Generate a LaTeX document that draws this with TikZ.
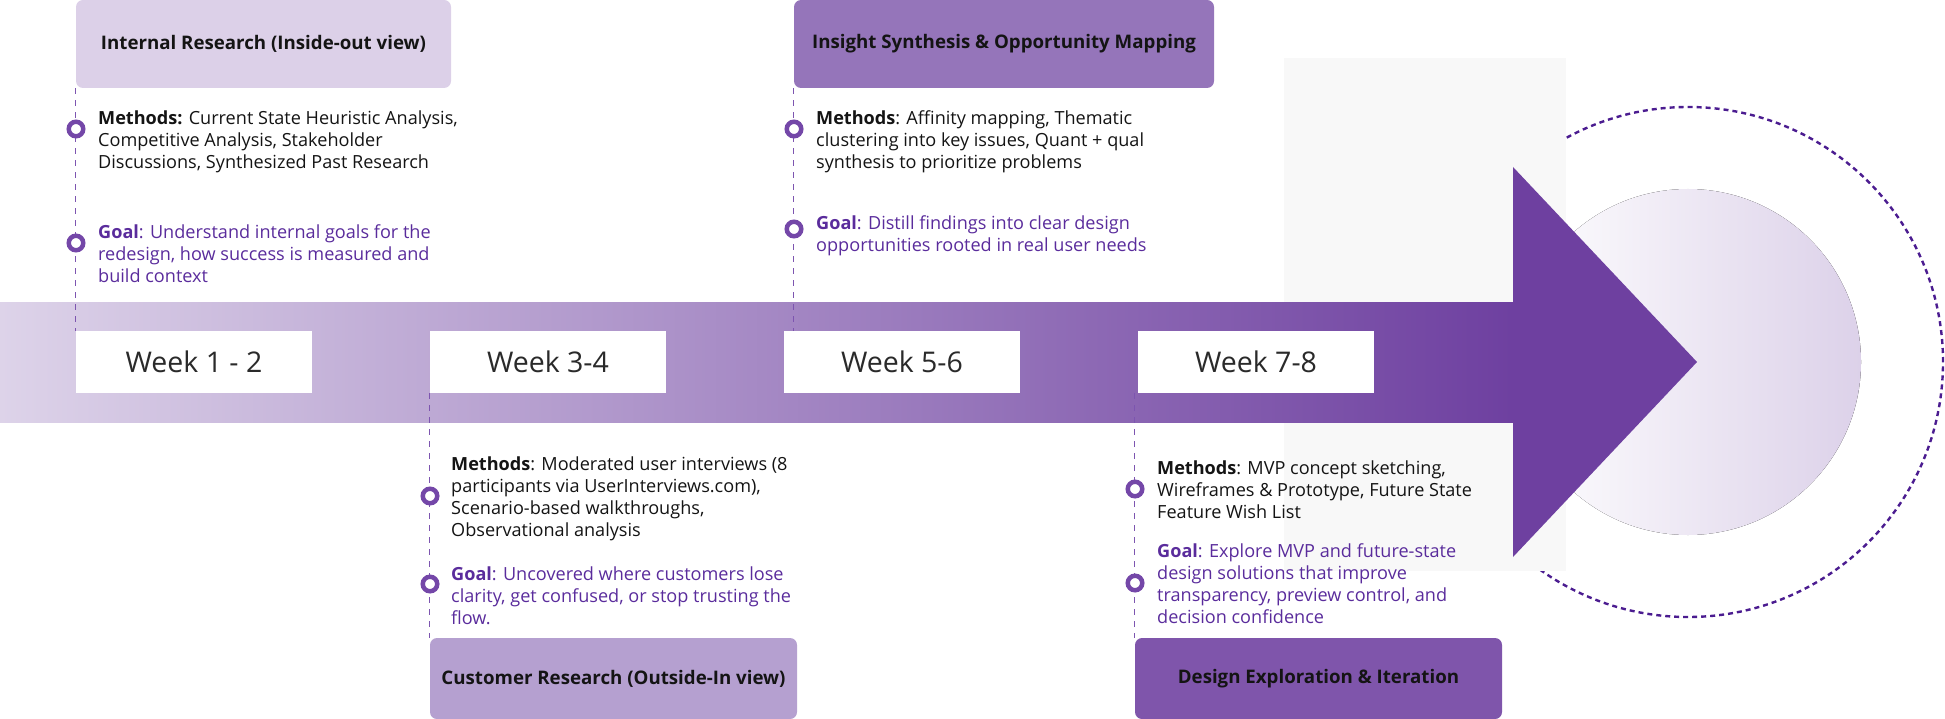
\documentclass[tikz,border=0pt]{standalone}
\usepackage{fontspec}
\setmainfont{Open Sans}
\definecolor{bandL}{HTML}{DDD3E9}
\definecolor{bandR}{HTML}{6E40A0}
\definecolor{boxA}{HTML}{DCD0E8}
\definecolor{boxB}{HTML}{B5A0D0}
\definecolor{boxC}{HTML}{9575BA}
\definecolor{boxD}{HTML}{7F55AB}
\definecolor{goalc}{HTML}{5A2C9C}
\definecolor{ringc}{HTML}{7447A8}
\definecolor{linec}{HTML}{7D55B0}
\definecolor{dotc}{HTML}{4B1C90}
\definecolor{greyc}{HTML}{F8F8F8}
\definecolor{circR}{HTML}{DCD1E9}
\definecolor{textc}{HTML}{141414}
\definecolor{weekc}{HTML}{2A2A2A}
\tikzset{
  phasebox/.style={rounded corners=7pt, inner sep=0pt, text=textc,
    font=\fontsize{18.7}{22}\selectfont\bfseries},
  weekbox/.style={fill=white, inner sep=0pt, minimum width=236pt, minimum height=62pt,
    text=weekc, font=\fontsize{28.5}{30}\selectfont},
  vline/.style={draw=linec, line width=1pt, dash pattern=on 6pt off 6pt},
  ring/.style={circle, draw=ringc, line width=4.5pt, fill=white, inner sep=0pt, minimum size=14.5pt},
  body/.style={anchor=base west, inner sep=0pt, text=textc, font=\fontsize{18.1}{22}\selectfont},
  goal/.style={anchor=base west, inner sep=0pt, text=goalc, font=\fontsize{18.1}{22}\selectfont}
}
\newcommand{\txtblock}[1]{\parbox[t]{440pt}{\raggedright #1}}
\begin{document}
\begin{tikzpicture}[x=1pt,y=-1pt]
\useasboundingbox (0,0) rectangle (1945,719);
% right decoration
\draw[dotc, line width=2.4pt, dash pattern=on 5pt off 4pt] (1688,362) circle[radius=255pt];
\fill[greyc] (1284,58) rectangle (1566,571);
\fill[left color=white, right color=circR] (1688,362) circle[radius=173pt];
% band and arrow head
\fill[left color=bandL, right color=bandR] (0,302) rectangle (1513,422);
\fill[bandR] (1513,167) -- (1697,362) -- (1513,557) -- cycle;
% week boxes
\node[weekbox] (w1) at (194,362) {Week 1 - 2};
\node[weekbox] (w3) at (548,362) {Week 3-4};
\node[weekbox] (w5) at (902,362) {Week 5-6};
\node[weekbox] (w7) at (1256,362) {Week 7-8};
% phase boxes
\node[phasebox, fill=boxA, minimum width=375pt, minimum height=88pt] (ir) at (263.5,44) {Internal Research (Inside-out view)};
\node[phasebox, fill=boxC, minimum width=420pt, minimum height=88pt] (is) at (1004,44) {Insight Synthesis \& Opportunity Mapping};
\node[phasebox, fill=boxB, minimum width=367pt, minimum height=81pt] (cr) at (613.5,678.5) {Customer Research (Outside-In view)};
\node[phasebox, fill=boxD, minimum width=367pt, minimum height=81pt] (de) at (1318.5,678.5) {Design Exploration \& Iteration};
% dashed connectors
\draw[vline] (ir.south west) -- (w1.north west);
\draw[vline] (w3.south west) -- (cr.north west);
\draw[vline] (is.south west) -- (is.south west |- w5.north);
\draw[vline] (de.north west |- w7.south) -- (de.north west);
% ring markers
\node[ring] (m1) at (76,129) {};
\node[ring] (g1) at (76,243) {};
\node[ring] (m3) at (430,496) {};
\node[ring] (g3) at (430,584) {};
\node[ring] (m5) at (794,129) {};
\node[ring] (g5) at (794,229) {};
\node[ring] (m7) at (1135,489) {};
\node[ring] (g7) at (1135,583) {};
% texts
\node[body] (t1m) at (98,125) {\txtblock{\textbf{Methods:} Current State Heuristic Analysis,\\Competitive Analysis, Stakeholder\\Discussions, Synthesized Past Research}};
\node[goal] (t1g) at (98,239) {\txtblock{\textbf{Goal}: Understand internal goals for the\\redesign, how success is measured and\\build context}};
\node[body] (t3m) at (451,470) {\txtblock{\textbf{Methods}: Moderated user interviews (8\\participants via UserInterviews.com),\\Scenario-based walkthroughs,\\Observational analysis}};
\node[goal] (t3g) at (451,580) {\txtblock{\textbf{Goal}: Uncovered where customers lose\\clarity, get confused, or stop trusting the\\flow.}};
\node[body] (t5m) at (816,125) {\txtblock{\textbf{Methods}: Affinity mapping, Thematic\\clustering into key issues, Quant + qual\\synthesis to prioritize problems}};
\node[goal] (t5g) at (816,230) {\txtblock{\textbf{Goal}: Distill findings into clear design\\opportunities rooted in real user needs}};
\node[body] (t7m) at (1157,474) {\txtblock{\textbf{Methods}: MVP concept sketching,\\Wireframes \& Prototype, Future State\\Feature Wish List}};
\node[goal] (t7g) at (1157,557) {\txtblock{\textbf{Goal}: Explore MVP and future-state\\design solutions that improve\\transparency, preview control, and\\decision confidence}};
\end{tikzpicture}
\end{document}
